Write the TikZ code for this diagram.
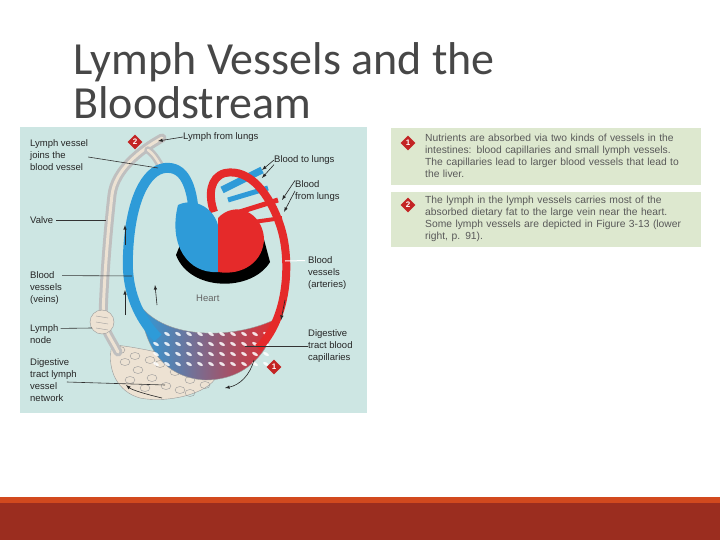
\documentclass[tikz,border=0pt]{standalone}
\usepackage{fontspec}
\setmainfont{Liberation Sans}
\newfontfamily\titlefont{Carlito}
\usetikzlibrary{shapes.geometric}
\usetikzlibrary{calc}
\definecolor{panelbg}{HTML}{CDE6E3}
\definecolor{notebg}{HTML}{DDE8CF}
\definecolor{veinblue}{HTML}{2E9BD8}
\definecolor{artred}{HTML}{E52A2A}
\definecolor{lymphcol}{HTML}{EDE2D3}
\definecolor{barred}{HTML}{9B2D1F}
\definecolor{barorange}{HTML}{D2491E}

\begin{document}
\begin{tikzpicture}[x=1pt, y=-1pt]
        % ================= 样式定义 =================
        \tikzset{
            % 图中标注文字
            lbl/.style={anchor=west, align=left, inner sep=0pt, font=\fontsize{9.5}{11.8}\selectfont, text=black!85},
            % 右侧说明文字
            note/.style={anchor=north west, align=left, inner sep=0pt, text width=262pt, font=\fontsize{10.3}{12}\selectfont, text=black!65},
            % 红色菱形编号
            badge/.style={diamond, fill=artred!85!black, text=white, inner sep=1pt, minimum size=15pt, font=\bfseries\fontsize{8}{8}\selectfont},
            % 引线
            leader/.style={black!80, line width=0.6pt},
            % 流向小箭头
            flow/.style={-latex, black!85, line width=0.6pt},
            % 淋巴管
            lymph/.style={line width=#1, line cap=round, double=lymphcol, double distance=#1, draw=black!25}
        }
        \useasboundingbox (0,0) rectangle (720,540);

        % ================= 标题与底栏 =================
        \node[anchor=north west, align=left, inner sep=0pt, text=black!72,
              font=\titlefont\fontsize{46}{44}\selectfont] (title) at (73,42) {Lymph Vessels and the\\Bloodstream};
        \fill[barorange] (0,497) rectangle (720,503);
        \fill[barred] (0,503) rectangle (720,540);

        % ================= 右侧说明 =================
        \fill[notebg] (391,128) rectangle (701,185);
        \fill[notebg] (391,192) rectangle (701,247);
        \node[badge] (n1) at (408,143) {1};
        \node[badge] (n2) at (408,205) {2};
        \node[note] (t1) at (425,134) {Nutrients are absorbed via two kinds of vessels in the intestines: blood capillaries and small lymph vessels. The capillaries lead to larger blood vessels that lead to the liver.};
        \node[note] (t2) at (425,196) {The lymph in the lymph vessels carries most of the absorbed dietary fat to the large vein near the heart. Some lymph vessels are depicted in Figure 3-13 (lower right, p. 91).};

        % ================= 左侧插图 =================
        \fill[panelbg] (20,127) rectangle (367,413);

        % 淋巴管网络
        \fill[lymphcol, draw=black!40, line width=0.4pt] (112,345) .. controls (130,345) and (200,360) .. (218,372)
            .. controls (215,392) and (170,404) .. (140,398) .. controls (118,392) and (106,370) .. (112,345) -- cycle;
        \foreach \x/\y in {125/362,138/370,152/378,166/386,180/390,130/380,145/388,160/364,175/372,190/380,200/372,150/360,120/350,135/356,205/385,190/393}
            \draw[black!40, line width=0.4pt] (\x,\y) ellipse (5pt and 3.5pt);

        % 毛细血管网
        \shade[left color=veinblue, right color=artred, draw=black!40, line width=0.4pt]
            (140,305) .. controls (165,340) and (235,340) .. (278,318)
            .. controls (268,355) and (245,380) .. (205,380) .. controls (170,378) and (145,355) .. (140,305) -- cycle;
        \foreach \x in {156,167,...,266}
            \foreach \y in {334,344,354,364}
                \fill[white, opacity=0.85, rotate around={-30:(\x,\y)}] (\x,\y) ellipse (3.2pt and 1.5pt);

        % 淋巴管
        \draw[lymph=3pt] (118,352) .. controls (112,340) and (104,330) .. (103,318)
            .. controls (104,280) and (108,230) .. (112,195) .. controls (115,170) and (140,150) .. (162,138);
        \draw[lymph=2.5pt] (148,150) .. controls (155,155) and (158,162) .. (162,168);
        \fill[lymphcol, draw=black!40, line width=0.4pt] (102,322) circle (12pt);
        \foreach \y in {316,322,328}
            \draw[black!40, line width=0.4pt] (96,\y) -- (108,\y+2);

        % 静脉 (蓝)
        \draw[veinblue, line width=10pt] (158,338) .. controls (138,318) and (126,290) .. (128,255)
            .. controls (130,200) and (146,170) .. (165,168) .. controls (184,166) and (192,185) .. (194,215);
        \draw[veinblue, line width=7pt] (222,190) -- (262,170);
        \draw[veinblue, line width=5pt] (228,200) -- (268,188);

        % 动脉 (红)
        \draw[artred, line width=8pt] (258,348) .. controls (288,320) and (292,260) .. (280,225)
            .. controls (270,195) and (250,168) .. (225,173) .. controls (210,177) and (208,195) .. (214,212);
        \draw[artred, line width=5pt] (230,215) -- (278,200);
        \draw[artred, line width=4pt] (232,225) -- (282,218);

        % 心脏
        \fill[black] (176,255) .. controls (190,292) and (252,292) .. (270,262) -- (262,232) -- (180,245) -- cycle;
        \fill[veinblue] (178,205) .. controls (168,245) and (188,274) .. (218,272) -- (218,225) .. controls (212,205) and (192,198) .. (178,205) -- cycle;
        \fill[artred] (218,218) .. controls (235,200) and (262,212) .. (264,238) .. controls (264,262) and (242,276) .. (218,272) -- cycle;

        % 流向箭头
        \draw[flow] (125,315) -- (125,290);
        \draw[flow] (125,245) -- (125,225);
        \draw[flow] (157,305) -- (155,285);
        \draw[flow] (285,300) -- (281,320);
        \draw[flow] (162,398) .. controls (145,394) and (132,390) .. (126,385);
        \draw[flow] (254,360) .. controls (250,375) and (240,385) .. (225,388);

        % 编号
        \node[badge] (b2) at (135,142) {2};
        \node[badge] (b1) at (274,367) {1};

        % ================= 标注 =================
        \node[lbl] (joins) at (30,155) {Lymph vessel\\joins the\\blood vessel};
        \node[lbl] (fromlung) at (183,137) {Lymph from lungs};
        \node[lbl] (tolung) at (274,160) {Blood to lungs};
        \node[lbl] (bfromlung) at (295,191) {Blood\\from lungs};
        \node[lbl] (valve) at (30,220) {Valve};
        \node[lbl] (veins) at (30,288) {Blood\\vessels\\(veins)};
        \node[lbl, text=black!60] (heart) at (196,298) {Heart};
        \node[lbl] (arteries) at (308,273) {Blood\\vessels\\(arteries)};
        \node[lbl] (lnode) at (30,334) {Lymph\\node};
        \node[lbl] (bcap) at (308,346) {Digestive\\tract blood\\capillaries};
        \node[lbl] (lnet) at (30,380) {Digestive\\tract lymph\\vessel\\network};

        \coordinate (cjoins) at (158,168);
        \coordinate (cvalve) at (106,220);
        \coordinate (cveins) at (132,276);
        \coordinate (clnode) at (92,328);
        \coordinate (clnet) at (165,385);
        \coordinate (cart) at (285,261);
        \coordinate (ccap) at (245,346);
        \coordinate (cfl) at (158,141);
        \coordinate (ctl1) at (262,170);
        \coordinate (ctl2) at (262,178);
        \coordinate (cbl1) at (282,200);
        \coordinate (cbl2) at (284,212);

        \draw[leader] (joins.east |- 0,157) -- (cjoins);
        \draw[leader] (valve.east) ++(3,0) -- (cvalve);
        \draw[leader] (veins.north east) ++(0,4) -- (cveins);
        \draw[leader] (lnode.north east) ++(2,4) -- (clnode);
        \draw[leader] (lnet.east) ++(-10,2) -- (clnet);
        \draw[white, line width=1pt] (arteries.north west) ++(-3,4) -- (cart);
        \draw[leader] (bcap.west) -- (ccap);
        \draw[flow] (fromlung.west) -- (cfl);
        \draw[flow] (tolung.west) -- (ctl1);
        \draw[flow] (tolung.south west) -- (ctl2);
        \draw[flow] (bfromlung.north west) -- (cbl1);
        \draw[flow] (bfromlung.west) -- (cbl2);
\end{tikzpicture}
\end{document}
